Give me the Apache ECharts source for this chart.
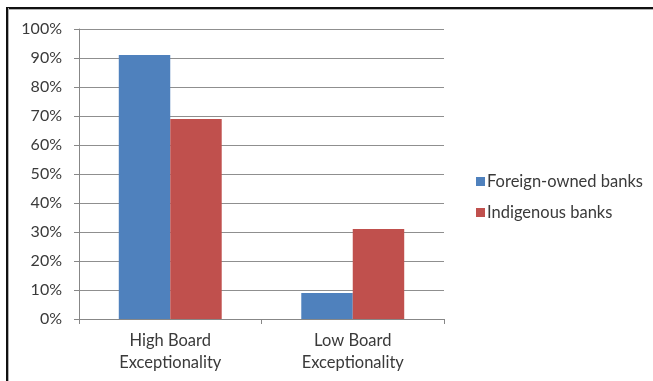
<!DOCTYPE html>
<html>
<head>
<meta charset="utf-8">
<script src="https://cdn.jsdelivr.net/npm/echarts@6/dist/echarts.min.js"></script>
<style>
  html, body { margin: 0; padding: 0; background: #fff; }
  #main { width: 653px; height: 381px; }
</style>
</head>
<body>
<div id="main"></div>
<script>
const categories = ['High Board\nExceptionality', 'Low Board\nExceptionality'];
const foreignOwned = [91, 9];
const indigenous = [69, 31];
const yTicks = [0, 10, 20, 30, 40, 50, 60, 70, 80, 90, 100];

const chart = echarts.init(document.getElementById('main'), null, { renderer: 'canvas' });

const font = 'Lato, "Open Sans", sans-serif';

const option = {
  animation: false,
  backgroundColor: '#ffffff',
  textStyle: { fontFamily: font },
  grid: { left: 79, top: 29, width: 365, height: 290, containLabel: false },
  legend: {
    orient: 'vertical',
    left: 471,
    top: 168,
    itemWidth: 9,
    itemHeight: 9,
    itemGap: 14,
    icon: 'rect',
    textStyle: { fontSize: 16.5, color: '#3a3a3a', fontFamily: font, padding: [0, 0, 0, -3] },
    data: ['Foreign-owned banks', 'Indigenous banks']
  },
  xAxis: {
    type: 'category',
    data: categories,
    axisLine: { lineStyle: { color: '#878787', width: 1 } },
    axisTick: { show: true, length: 5, lineStyle: { color: '#878787' } },
    axisLabel: { fontSize: 16.5, color: '#3a3a3a', lineHeight: 22, margin: 11, fontFamily: font },
    splitLine: { show: false }
  },
  yAxis: {
    type: 'value',
    min: 0,
    max: 100,
    interval: 10,
    axisLine: { show: true, lineStyle: { color: '#878787', width: 1 } },
    axisTick: { show: true, length: 5, lineStyle: { color: '#878787' } },
    axisLabel: {
      fontSize: 16, color: '#3a3a3a', margin: 17, fontFamily: font,
      formatter: v => yTicks.includes(v) ? v + '%' : ''
    },
    splitLine: { show: true, lineStyle: { color: '#8f8f8f', width: 1 } }
  },
  series: [
    {
      name: 'Foreign-owned banks',
      type: 'bar',
      data: foreignOwned,
      barGap: '0%',
      barCategoryGap: '43.6%',
      itemStyle: { color: '#4f81bd' }
    },
    {
      name: 'Indigenous banks',
      type: 'bar',
      data: indigenous,
      barGap: '0%',
      barCategoryGap: '43.6%',
      itemStyle: { color: '#c0504d' }
    }
  ],
  graphic: [
    { type: 'rect', shape: { x: 7, y: 9, width: 660, height: 1 }, style: { fill: '#b0b0b0' }, silent: true },
    { type: 'rect', shape: { x: 6, y: 7, width: 660, height: 2 }, style: { fill: '#111' }, silent: true },
    { type: 'rect', shape: { x: 8, y: 8, width: 1, height: 380 }, style: { fill: '#b0b0b0' }, silent: true },
    { type: 'rect', shape: { x: 6, y: 7, width: 2, height: 380 }, style: { fill: '#111' }, silent: true }
  ]
};

chart.setOption(option);
</script>
</body>
</html>
